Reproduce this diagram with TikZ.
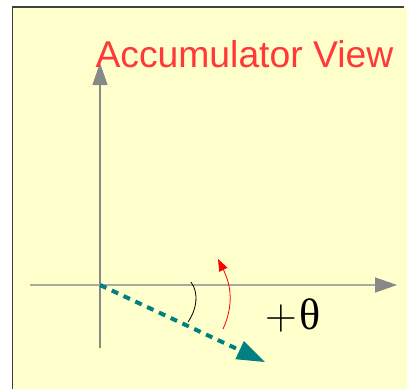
\documentclass[tikz,border=0pt]{standalone}
\usepackage{fontspec}
\setmainfont{Liberation Sans}
\newfontfamily\symfont{Liberation Serif}
\newfontfamily\lmfont{Latin Modern Roman}
\usetikzlibrary{arrows.meta,positioning,calc}
\definecolor{PanelYellow}{HTML}{FFFFCC}
\definecolor{PanelEdge}{HTML}{404040}
\definecolor{AxisGray}{HTML}{888888}
\definecolor{AxisLight}{HTML}{AAAAA0}
\definecolor{TitleRed}{HTML}{FF3838}
\definecolor{VecTeal}{HTML}{008080}

\begin{document}
\begin{tikzpicture}[x=1pt,y=-1pt,every node/.style={inner sep=0pt,outer sep=0pt}]
    \useasboundingbox (0,0) rectangle (407,389);
    \fill[PanelYellow] (12.5,7) rectangle (407,389);
    \draw[PanelEdge,line width=1.5pt] (12.5,389) -- (12.5,7) -- (404,7);
    % axes
    \coordinate (origin) at (100,285);
    \coordinate (ybot) at (100,348);
    \coordinate (ytop) at (100,63);
    \coordinate (xleft) at (30,285);
    \coordinate (xright) at (397,285);
    \draw[AxisGray,line width=1.2pt,-{Triangle[length=22pt,width=15pt]}] (ybot) -- (ytop);
    \draw[AxisLight,line width=1.5pt,-{Triangle[length=22pt,width=15pt,color=AxisGray]}] (xleft) -- (xright);
    \node[TitleRed,font=\fontsize{37.3}{40}\selectfont,anchor=base west] (title) at (95.5,67) {Accumulator View};
    % rotated vector
    \coordinate (vtip) at (265,362);
    \draw[VecTeal,line width=4pt,dash pattern=on 7pt off 6pt,-{Triangle[length=28pt,width=20pt,line width=0pt]}] (origin) -- (vtip);
    % angle marks
    \coordinate (arcA) at (191,282);
    \coordinate (arcB) at (188,322);
    \draw[black,line width=0.8pt] (arcA) .. controls (199,293) and (197,309) .. (arcB);
    \coordinate (redA) at (223,329);
    \coordinate (redB) at (218,259);
    \draw[red,line width=0.8pt,-{Triangle[length=12pt,width=9pt]}] (redA) .. controls (234,305) and (231,285) .. (redB);
    \node[font=\fontsize{44}{48}\selectfont,anchor=base west] (theta) at (265,329) {\lmfont +\hspace{3pt}\symfont θ};
\end{tikzpicture}
\end{document}
